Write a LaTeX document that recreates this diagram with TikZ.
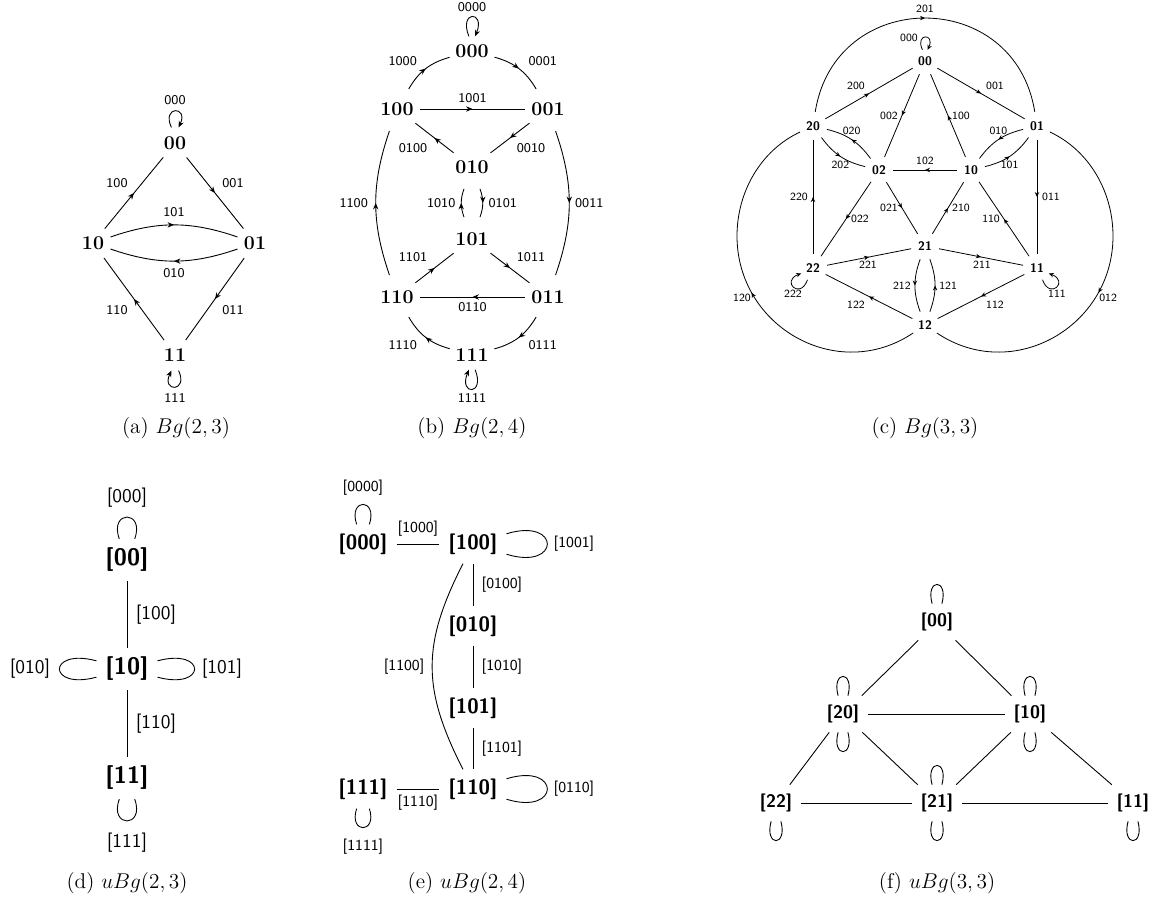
\documentclass[tikz,border=0pt]{standalone}
\usetikzlibrary{arrows.meta,decorations.markings,calc}
\begin{document}
\begin{tikzpicture}[x=0.5625pt,y=0.5625pt,
  >={Stealth[length=3.6pt,width=3pt]},
  midarrow/.style={postaction={decorate},decoration={markings,mark=at position #1 with {\arrow{>}}}},
  midarrow/.default=0.5,
  edg/.style={line width=0.5pt},
  cedg/.style={line width=0.45pt},
  uedg/.style={line width=0.5pt},
  bn/.style={circle,inner sep=2.2pt,font=\fontsize{11}{13}\selectfont\bfseries},
  el/.style={inner sep=0pt,font=\sffamily\fontsize{7.5}{9}\selectfont},
  cn/.style={circle,inner sep=2.3pt,font=\sffamily\bfseries\fontsize{7}{8}\selectfont},
  cl/.style={inner sep=0pt,font=\sffamily\fontsize{6.2}{7.5}\selectfont},
  dn/.style={inner sep=5pt,font=\sffamily\bfseries\fontsize{13.4}{16}\selectfont},
  dl/.style={inner sep=0pt,font=\sffamily\fontsize{10.9}{13}\selectfont},
  en/.style={inner sep=5pt,font=\sffamily\bfseries\fontsize{11.7}{14}\selectfont},
  ell/.style={inner sep=0pt,font=\sffamily\fontsize{8.6}{10}\selectfont},
  fn/.style={inner sep=5pt,font=\sffamily\bfseries\fontsize{10.2}{12}\selectfont},
  captxt/.style={inner sep=0pt,font=\fontsize{12}{14}\selectfont},
  lp/.style={looseness=1,min distance=#1},
]
\useasboundingbox (0,0) rectangle (1153,-900);

% ---------------- (a) Bg(2,3)
\node[bn] (a00) at (175,-143) {00};
\node[bn] (a10) at (93,-243) {10};
\node[bn] (a01) at (255,-243) {01};
\node[bn] (a11) at (175,-355) {11};
\draw[edg,midarrow] (a10) -- node[el,shift={(-17,10)}]{100} (a00);
\draw[edg,midarrow] (a00) -- node[el,shift={(18,10)}]{001} (a01);
\draw[edg,midarrow] (a10) to[bend left=19] node[el,shift={(0,13)}]{101} (a01);
\draw[edg,midarrow] (a01) to[bend left=19] node[el,shift={(0,-12)}]{010} (a10);
\draw[edg,midarrow] (a01) -- node[el,shift={(18,-11)}]{011} (a11);
\draw[edg,midarrow] (a11) -- node[el,shift={(-17,-11)}]{110} (a10);
\draw[edg,->] ($(a00)+(103:16)$) .. controls +(115:24) and +(65:24) .. ($(a00)+(77:16)$);
\draw[edg,->] ($(a11)+(-77:16)$) .. controls +(-65:24) and +(-115:24) .. ($(a11)+(-103:16)$);
\node[el] (la000) at (175,-100) {000};
\node[el] (la111) at (175,-398) {111};
\node[captxt] (capa) at (176,-428) {(a) $Bg(2,3)$};

% ---------------- (b) Bg(2,4)
\node[bn] (b000) at (472,-51) {000};
\node[bn] (b100) at (397,-109) {100};
\node[bn] (b001) at (548,-109) {001};
\node[bn] (b010) at (472,-167) {010};
\node[bn] (b101) at (472,-239) {101};
\node[bn] (b110) at (397,-297) {110};
\node[bn] (b011) at (548,-297) {011};
\node[bn] (b111) at (472,-355) {111};
\draw[edg,midarrow] (b100) to[bend left=22] node[el,shift={(-23,7)}]{1000} (b000);
\draw[edg,midarrow] (b000) to[bend left=22] node[el,shift={(24,7)}]{0001} (b001);
\draw[edg,midarrow] (b100) -- node[el,shift={(0,11)}]{1001} (b001);
\draw[edg,midarrow] (b001) -- node[el,shift={(21,-10)}]{0010} (b010);
\draw[edg,midarrow] (b010) -- node[el,shift={(-21.5,-10)}]{0100} (b100);
\draw[edg,midarrow] (b010) to[bend left=20] node[el,shift={(20,0)}]{0101} (b101);
\draw[edg,midarrow] (b101) to[bend left=20] node[el,shift={(-20,0)}]{1010} (b010);
\draw[edg,midarrow] (b110) to[bend left=19] node[el,shift={(-22,0)}]{1100} (b100);
\draw[edg,midarrow] (b001) to[bend left=19] node[el,shift={(20,0)}]{0011} (b011);
\draw[edg,midarrow] (b110) -- node[el,shift={(-21.5,11)}]{1101} (b101);
\draw[edg,midarrow] (b101) -- node[el,shift={(21,11)}]{1011} (b011);
\draw[edg,midarrow] (b011) -- node[el,shift={(0,-10)}]{0110} (b110);
\draw[edg,midarrow] (b011) to[bend left=22] node[el,shift={(24,-8)}]{0111} (b111);
\draw[edg,midarrow] (b111) to[bend left=22] node[el,shift={(-23,-8)}]{1110} (b110);
\draw[edg,->] ($(b000)+(102:15)$) .. controls +(112:28) and +(68:28) .. ($(b000)+(78:15)$);
\draw[edg,->] ($(b111)+(-78:15)$) .. controls +(-68:28) and +(-112:28) .. ($(b111)+(-102:15)$);
\node[el] (lb0000) at (472,-7) {0000};
\node[el] (lb1111) at (472,-398) {1111};
\node[captxt] (capb) at (472,-428) {(b) $Bg(2,4)$};

% ---------------- (c) Bg(3,3)
\begin{scope}[>={Stealth[length=2.8pt,width=2.5pt]}]
\node[cn] (c00) at (925,-61) {00};
\node[cn] (c20) at (813,-126) {20};
\node[cn] (c01) at (1037,-126) {01};
\node[cn] (c02) at (879,-170) {02};
\node[cn] (c10) at (971,-170) {10};
\node[cn] (c21) at (925,-246) {21};
\node[cn] (c22) at (813,-268) {22};
\node[cn] (c11) at (1037,-268) {11};
\node[cn] (c12) at (925,-325) {12};
\coordinate (w120) at (737,-236);
\coordinate (e012) at (1113,-236);
\draw[cedg,midarrow] (c20) -- node[cl,shift={(-13,8)}]{200} (c00);
\draw[cedg,midarrow] (c00) -- node[cl,shift={(14,8)}]{001} (c01);
\draw[cedg,midarrow] (c00) -- node[cl,shift={(-13,0)}]{002} (c02);
\draw[cedg,midarrow] (c10) -- node[cl,shift={(13,0)}]{100} (c00);
\draw[cedg,midarrow] (c02) to[bend right=20] node[cl,shift={(0,9)}]{020} (c20);
\draw[cedg,midarrow] (c20) to[bend right=20] node[cl,shift={(0,-8)}]{202} (c02);
\draw[cedg,midarrow] (c01) to[bend right=20] node[cl,shift={(0,9)}]{010} (c10);
\draw[cedg,midarrow] (c10) to[bend right=20] node[cl,shift={(0,-8)}]{101} (c01);
\draw[cedg,midarrow] (c10) -- node[cl,shift={(0,9)}]{102} (c02);
\draw[cedg,midarrow] (c22) -- node[cl,shift={(-14,0)}]{220} (c20);
\draw[cedg,midarrow] (c01) -- node[cl,shift={(14,0)}]{011} (c11);
\draw[cedg,midarrow] (c02) -- node[cl,shift={(-13,0)}]{021} (c21);
\draw[cedg,midarrow] (c21) -- node[cl,shift={(13,0)}]{210} (c10);
\draw[cedg,midarrow] (c02) -- node[cl,shift={(14,0)}]{022} (c22);
\draw[cedg,midarrow] (c11) -- node[cl,shift={(-13,0)}]{110} (c10);
\draw[cedg,midarrow] (c22) -- node[cl,shift={(-1,-8)}]{221} (c21);
\draw[cedg,midarrow] (c21) -- node[cl,shift={(1,-8)}]{211} (c11);
\draw[cedg,midarrow] (c21) to[bend right=20] node[cl,shift={(-13,0)}]{212} (c12);
\draw[cedg,midarrow] (c12) to[bend right=20] node[cl,shift={(13,0)}]{121} (c21);
\draw[cedg,midarrow] (c12) -- node[cl,shift={(-13,-8.5)}]{122} (c22);
\draw[cedg,midarrow] (c11) -- node[cl,shift={(14,-8.5)}]{112} (c12);
\draw[cedg,midarrow] (c20) to[out=81,in=99,looseness=1.48] node[cl,shift={(0,9)}]{201} (c01);
\draw[cedg,midarrow] (c12) to[out=214,in=-90,looseness=1.16] node[cl,pos=0.75,shift={(-12,-1)}]{120} (w120)
   to[out=90,in=205,looseness=0.92] (c20);
\draw[cedg,midarrow] (c01) to[out=-25,in=90,looseness=0.92] (e012)
   to[out=-90,in=-34,looseness=1.16] node[cl,pos=0.25,shift={(12,-1)}]{012} (c12);
\draw[cedg,->] ($(c00)+(103:11.5)$) .. controls +(115:18.5) and +(65:18.5) .. ($(c00)+(77:11.5)$);
\draw[cedg,->] ($(c22)+(245:13)$) .. controls +(250:22) and +(200:22) .. ($(c22)+(205:13)$);
\draw[cedg,->] ($(c11)+(295:13)$) .. controls +(290:22) and +(340:22) .. ($(c11)+(335:13)$);
\node[cl] (lc000) at ($(c00)+(-16,23)$) {000};
\node[cl] (lc222) at ($(c22)+(-20,-26)$) {222};
\node[cl] (lc111) at ($(c11)+(20,-26)$) {111};
\end{scope}
\node[captxt] (capc) at (925,-428) {(c) $Bg(3,3)$};

% ---------------- (d) uBg(2,3)
\node[dn] (d00) at (127,-560) {[00]};
\node[dn] (d10) at (127,-669) {[10]};
\node[dn] (d11) at (127,-778) {[11]};
\draw[uedg] (d00) -- node[dl,shift={(29,0)}]{[100]} (d10);
\draw[uedg] (d10) -- node[dl,shift={(29,0)}]{[110]} (d11);
\draw[uedg] (d00) to[out=110,in=70,lp=17.4pt] (d00);
\draw[uedg] (d11) to[out=-70,in=-110,lp=17.4pt] (d11);
\draw[uedg] (d10) to[out=195,in=165,lp=28.8pt] (d10);
\draw[uedg] (d10) to[out=15,in=-15,lp=28.8pt] (d10);
\node[dl] (ld000) at (127,-498) {[000]};
\node[dl] (ld111) at (127,-843) {[111]};
\node[dl] (ld010) at (30,-669) {[010]};
\node[dl] (ld101) at (222,-669) {[101]};
\node[captxt] (capd) at (127,-883) {(d) $uBg(2,3)$};

% ---------------- (e) uBg(2,4)
\node[en] (e000) at (363,-544) {[000]};
\node[en] (e100) at (473,-544) {[100]};
\node[en] (e010) at (473,-626) {[010]};
\node[en] (e101) at (473,-708) {[101]};
\node[en] (e110) at (473,-789) {[110]};
\node[en] (e111) at (363,-789) {[111]};
\draw[uedg] (e000) -- node[ell,shift={(0,15)}]{[1000]} (e100);
\draw[uedg] (e100) -- node[ell,shift={(29,0)}]{[0100]} (e010);
\draw[uedg] (e010) -- node[ell,shift={(29,0)}]{[1010]} (e101);
\draw[uedg] (e101) -- node[ell,shift={(29,0)}]{[1101]} (e110);
\draw[uedg] (e111) -- node[ell,shift={(0,-14)}]{[1110]} (e110);
\draw[uedg] (e100) to[out=243,in=117,looseness=1.13] node[ell,shift={(-28,0)}]{[1100]} (e110);
\draw[uedg] (e000) to[out=108,in=72,lp=15.8pt] (e000);
\draw[uedg] (e111) to[out=-72,in=-108,lp=15pt] (e111);
\draw[uedg] (e100) to[out=17,in=-17,lp=32pt] (e100);
\draw[uedg] (e110) to[out=17,in=-17,lp=32pt] (e110);
\node[ell] (le0000) at (363,-488) {[0000]};
\node[ell] (le1111) at (363,-847) {[1111]};
\node[ell] (le1001) at (574,-544) {[1001]};
\node[ell] (le0110) at (574,-789) {[0110]};
\node[captxt] (cape) at (467,-883) {(e) $uBg(2,4)$};

% ---------------- (f) uBg(3,3)
\node[fn] (f00) at (937,-622) {[00]};
\node[fn] (f20) at (843,-714) {[20]};
\node[fn] (f10) at (1030,-714) {[10]};
\node[fn] (f22) at (776,-803) {[22]};
\node[fn] (f21) at (937,-803) {[21]};
\node[fn] (f11) at (1133,-803) {[11]};
\draw[uedg] (f00) -- (f20);
\draw[uedg] (f00) -- (f10);
\draw[uedg] (f20) -- (f10);
\draw[uedg] (f20) -- (f22);
\draw[uedg] (f20) -- (f21);
\draw[uedg] (f10) -- (f21);
\draw[uedg] (f10) -- (f11);
\draw[uedg] (f22) -- (f21);
\draw[uedg] (f21) -- (f11);
\foreach \n in {f00,f20,f10,f21}
  \draw[uedg] (\n) to[out=105,in=75,lp=15pt] (\n);
\foreach \n in {f20,f10,f21,f22,f11}
  \draw[uedg] (\n) to[out=-75,in=-105,lp=15pt] (\n);
\node[captxt] (capf) at (937,-883) {(f) $uBg(3,3)$};
\end{tikzpicture}
\end{document}
